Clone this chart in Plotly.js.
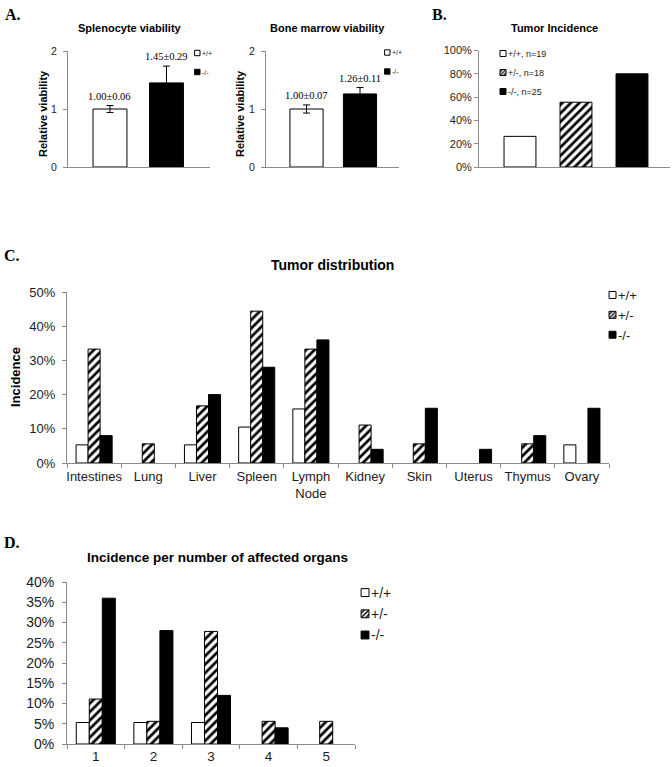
<!DOCTYPE html>
<html><head><meta charset="utf-8">
<script src="https://cdn.plot.ly/plotly-3.0.1.min.js"></script>
<style>html,body{margin:0;padding:0;background:#fff}</style>
</head><body><div id="chart" style="width:672px;height:767px"></div>
<script>
// ---------- DATA ----------
// Panel A: relative viability (mean, SD)
const genoA = ['+/+', '-/-'];
const splenMean = [1.00, 1.45];
const splenErr = [0.06, 0.29];
const marrowMean = [1.00, 1.26];
const marrowErr = [0.07, 0.11];
// Panel B: tumor incidence
const genoB = ['+/+', '+/-', '-/-'];
const genoBn = [19, 18, 25];
const tumorIncidence = [0.263, 0.556, 0.80];
// Panel C: tumor distribution
const organs = ['Intestines', 'Lung', 'Liver', 'Spleen', 'Lymph<br>Node', 'Kidney', 'Skin', 'Uterus', 'Thymus', 'Ovary'];
const distWT  = [0.053, 0, 0.053, 0.105, 0.158, 0, 0, 0, 0, 0.053];
const distHet = [0.333, 0.056, 0.167, 0.444, 0.333, 0.111, 0.056, 0, 0.056, 0];
const distKO  = [0.08, 0, 0.20, 0.28, 0.36, 0.04, 0.16, 0.04, 0.08, 0.16];
// Panel D: incidence per number of affected organs
const organCounts = ['1', '2', '3', '4', '5'];
const perWT  = [0.053, 0.053, 0.053, 0, 0];
const perHet = [0.111, 0.056, 0.278, 0.056, 0.056];
const perKO  = [0.36, 0.28, 0.12, 0.04, 0];
const legendNames = ['+/+', '+/-', '-/-'];

// ---------- STYLE HELPERS ----------
const W = 672, H = 767;
const px = x => x / W, py = y => 1 - y / H;
const AX = '#8a8a8a', TXT = '#1c1c1c';
const SANS = 'Liberation Sans, Arial, sans-serif';
const SERIF = 'Liberation Serif, Times New Roman, serif';
function mk(kind, arr) {
  const lw = arr ? arr.map(v => v > 0 ? 1 : 0) : 1;
  if (kind === 0) return {color: '#fff', line: {color: '#000', width: lw}};
  if (kind === 2) return {color: '#000', line: {color: '#000', width: lw}};
  return {color: '#fff', pattern: {shape: '/', fgcolor: '#000', bgcolor: '#fff', size: 6, solidity: 0.45}, line: {color: '#000', width: lw}};
}

function xAx(d0, d1, range, anchor, extra) {
  return Object.assign({domain: [px(d0), px(d1)], range: range, type: 'category', anchor: anchor,
    showline: true, linecolor: AX, linewidth: 1, showgrid: false, zeroline: false,
    ticks: '', showticklabels: false, fixedrange: true}, extra || {});
}
function yAx(top, bottom, range, dtick, anchor, fs, extra) {
  return Object.assign({domain: [py(bottom), py(top)], range: range, dtick: dtick, tick0: 0, anchor: anchor,
    showline: true, linecolor: AX, linewidth: 1, showgrid: false, zeroline: false,
    ticks: 'outside', ticklen: 4, tickcolor: AX, tickfont: {family: SANS, size: fs, color: TXT}, fixedrange: true}, extra || {});
}
function leg(x, y, fs, gap) {
  return {x: px(x), y: py(y), xanchor: 'left', yanchor: 'top', bgcolor: 'rgba(0,0,0,0)', borderwidth: 0,
    font: {family: SANS, size: fs, color: TXT}, tracegroupgap: gap, traceorder: 'normal'};
}

const traces = [];
// Panel A
[[splenMean, splenErr, 'x', 'y', 'legend', 0.6], [marrowMean, marrowErr, 'x2', 'y2', 'legend2', 0.62]].forEach((p, k) => {
  genoA.forEach((g, i) => {
    traces.push({type: 'bar', x: [g], y: [p[0][i]], name: g,
      error_y: {type: 'data', array: [p[1][i]], color: '#000', thickness: 1, width: 3.5},
      width: p[5], offset: -p[5] / 2, marker: mk(i === 0 ? 0 : 2),
      xaxis: p[2], yaxis: p[3], legend: p[4], legendgroup: 'a' + k + i});
  });
});
// Panel B
genoB.forEach((g, i) => {
  traces.push({type: 'bar', x: [g], y: [tumorIncidence[i]], name: g + ', n=' + genoBn[i],
    width: 0.57, offset: -0.285, marker: mk(i), xaxis: 'x3', yaxis: 'y3', legend: 'legend3', legendgroup: 'b' + i});
});
// Panel C
[distWT, distHet, distKO].forEach((arr, i) => {
  traces.push({type: 'bar', x: organs, y: arr, name: legendNames[i],
    width: 0.222, offset: -0.333 + 0.222 * i, marker: mk(i, arr), xaxis: 'x4', yaxis: 'y4', legend: 'legend4', legendgroup: 'c' + i});
});
// Panel D
[perWT, perHet, perKO].forEach((arr, i) => {
  traces.push({type: 'bar', x: organCounts, y: arr, name: legendNames[i],
    width: 0.226, offset: -0.339 + 0.226 * i, marker: mk(i, arr), xaxis: 'x5', yaxis: 'y5', legend: 'legend5', legendgroup: 'd' + i});
});

// annotations
const ann = [];
function txt(x, y, t, size, bold, fam, extra) {
  ann.push(Object.assign({xref: 'paper', yref: 'paper', x: px(x), y: py(y), text: bold ? '<b>' + t + '</b>' : t,
    showarrow: false, xanchor: 'center', yanchor: 'middle', font: {family: fam || SANS, size: size, color: '#000'}}, extra || {}));
}
txt(3, 14, 'A.', 16, true, SERIF, {xanchor: 'left'});
txt(430, 14, 'B.', 16, true, SERIF, {xanchor: 'left'});
txt(2, 255, 'C.', 16, true, SERIF, {xanchor: 'left'});
txt(2, 542, 'D.', 16, true, SERIF, {xanchor: 'left'});
txt(130, 28, 'Splenocyte viability', 11, true);
txt(327, 28, 'Bone marrow viability', 11, true);
txt(554, 28, 'Tumor Incidence', 11, true);
txt(332, 265, 'Tumor distribution', 14, true);
txt(217, 557, 'Incidence per number of affected organs', 13.5, true);
txt(43, 114, 'Relative viability', 11, true, SANS, {textangle: -90});
txt(240, 114, 'Relative viability', 11, true, SANS, {textangle: -90});
txt(15, 377, 'Incidence', 13, true, SANS, {textangle: -90});
// error-bar value labels
[[splenMean, splenErr, 'x', 'y'], [marrowMean, marrowErr, 'x2', 'y2']].forEach(p => {
  genoA.forEach((g, i) => {
    ann.push({xref: p[2], yref: p[3], x: g, y: p[0][i] + p[1][i], yanchor: 'bottom', yshift: 2, showarrow: false,
      text: p[0][i].toFixed(2) + '±' + p[1][i].toFixed(2), font: {family: SERIF, size: 10.5, color: '#000'}});
  });
});

const layout = {
  width: W, height: H, margin: {l: 0, r: 0, t: 0, b: 0},
  paper_bgcolor: '#fff', plot_bgcolor: 'rgba(0,0,0,0)', barmode: 'overlay',
  font: {family: SANS, color: TXT},
  xaxis: xAx(68, 210, [-0.743, 1.77], 'y'),
  yaxis: yAx(51, 167, [0, 2], 1, 'x', 10.5, {ticklabelstandoff: 4}),
  xaxis2: xAx(266, 399, [-0.757, 1.729], 'y2'),
  yaxis2: yAx(51, 167, [0, 2], 1, 'x2', 10.5, {ticklabelstandoff: 4}),
  xaxis3: xAx(479, 670, [-0.732, 2.679], 'y3'),
  yaxis3: yAx(50.5, 167, [0, 1], 0.2, 'x3', 11, {tickformat: '.0%'}),
  xaxis4: xAx(67, 609, [-0.5, 9.5], 'y4', {ticks: 'outside', tickson: 'boundaries', ticklen: 4, tickcolor: AX,
    showticklabels: true, tickangle: 0, ticklabelstandoff: 1, tickfont: {family: SANS, size: 13, color: TXT}}),
  yaxis4: yAx(292, 463, [0, 0.5], 0.1, 'x4', 13, {tickformat: '.0%', ticklabelstandoff: 4}),
  xaxis5: xAx(67, 355, [-0.5, 4.5], 'y5', {ticks: 'outside', tickson: 'boundaries', ticklen: 4, tickcolor: AX,
    showticklabels: true, tickangle: 0, ticklabelstandoff: 0, tickfont: {family: SANS, size: 13.5, color: TXT}}),
  yaxis5: yAx(582, 744, [0, 0.4], 0.05, 'x5', 14, {tickformat: '.0%', ticklabelstandoff: 5}),
  legend: leg(162, 38.5, 7, 3),
  legend2: leg(352, 38, 7, 5),
  legend3: leg(468, 39, 9, 1),
  legend4: leg(578, 280, 13, 0),
  legend5: leg(331, 577, 14, 5),
  showlegend: true,
  annotations: ann
};

Plotly.newPlot('chart', traces, layout, {staticPlot: true}).then(() => {
  const scales = {legend: 0.45, legend2: 0.45, legend3: 0.5, legend4: 0.58, legend5: 0.66};
  Object.keys(scales).forEach(id => {
    const s = scales[id];
    document.querySelectorAll('g.' + id + ' .legendpoints path').forEach(p => {
      const t = p.getAttribute('transform') || '';
      p.setAttribute('transform', t + ' translate(' + (18 - 6 * s) + ',0) scale(' + s + ')');
      p.setAttribute('vector-effect', 'non-scaling-stroke');
      p.style.strokeWidth = '1px';
    });
  });
});
</script></body></html>
